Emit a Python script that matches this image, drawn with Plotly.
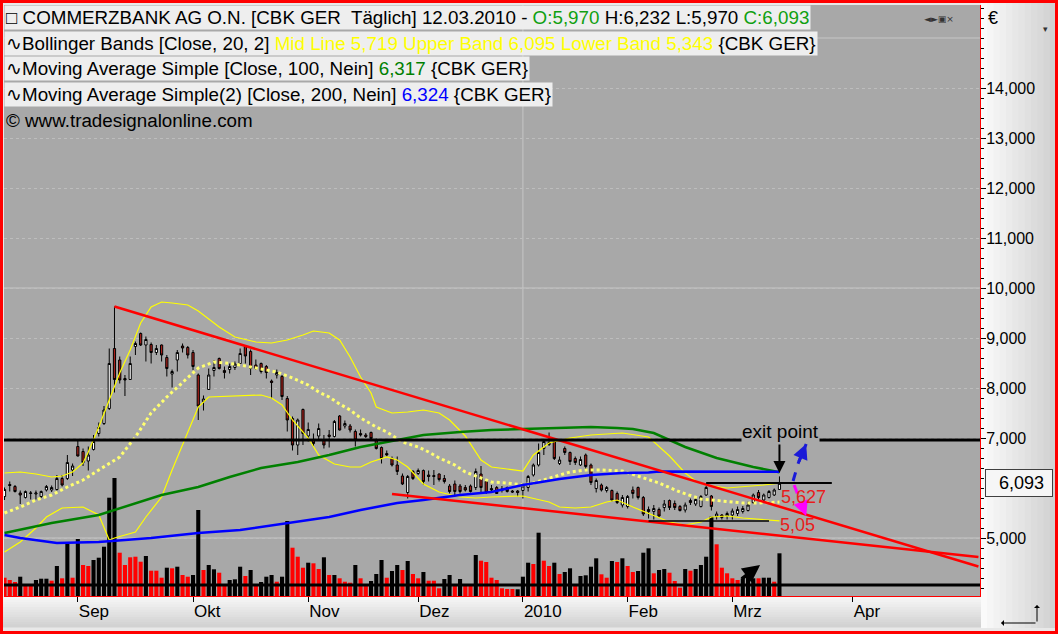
"""Commerzbank daily chart (Tradesignal look) rebuilt with Plotly."""

import pandas as pd
import plotly.graph_objects as go

# ---------------------------------------------------------------- data
FIRST_DAY, LAST_DAY = "2009-08-12", "2010-05-10"
HOLIDAYS = ["2009-12-24", "2009-12-25", "2009-12-31", "2010-01-01", "2010-04-02", "2010-04-05"]
MONTH_LABELS = ["Sep", "Okt", "Nov", "Dez", "2010", "Feb", "Mrz", "Apr"]
PRICE_TICKS = [5, 7, 8, 9, 10, 11, 12, 13, 14]  # 6,000 sits under the last-price box

# daily candles 12.08.2009 - 12.03.2010 (EUR)
open_ = [
    5.83, 6.07, 6.03, 5.90, 5.81, 5.89, 5.88, 5.83, 5.96, 5.96,
    5.97, 6.19, 6.19, 6.36,
    6.83, 6.73, 6.54, 6.77, 7.09, 7.29, 7.59, 8.79, 8.56, 8.19,
    8.17, 8.83, 9.09, 8.86, 8.87, 8.71, 8.86, 8.61, 8.28, 8.56,
    8.84, 8.81, 8.71, 8.26, 7.73, 7.97, 8.35, 8.59, 8.35, 8.37,
    8.41, 8.49, 8.83, 8.73, 8.46, 8.49, 8.43, 8.14, 8.26, 8.23,
    7.79, 7.39, 6.86, 7.57, 7.04, 6.96, 7.04, 6.96, 7.06, 7.03,
    7.44, 7.24, 7.24, 7.13, 7.09, 7.06, 7.11, 6.96, 6.81, 6.69,
    6.59, 6.46, 6.24, 5.91, 6.33, 6.29, 6.35, 6.26, 6.25, 6.28,
    6.19, 6.04, 6.08, 6.04, 6.01, 6.04, 6.01, 6.28, 6.13, 5.99,
    6.01, 5.98, 6.01, 5.94, 5.94, 5.95, 6.01, 6.26, 6.46, 6.79,
    6.91, 6.93, 6.49, 6.79, 6.71, 6.59, 6.46, 6.66, 6.46, 5.99,
    6.06, 5.95, 5.95, 5.89, 5.66, 5.63, 5.96, 6.01, 5.81, 5.57,
    5.53, 5.57, 5.61, 5.75, 5.69, 5.63, 5.56, 5.75, 5.68, 5.63,
    5.86, 5.84, 5.43, 5.46, 5.44, 5.46, 5.49, 5.53, 5.55, 5.71,
    5.91, 5.76, 5.81, 5.86, 5.97,
]
high = [
    6.01, 6.13, 6.06, 5.95, 5.95, 5.94, 5.95, 5.95, 6.06, 6.05,
    6.26, 6.26, 6.66, 6.49,
    6.96, 6.79, 6.83, 7.06, 7.31, 7.64, 8.79, 9.63, 8.63, 8.26,
    8.63, 8.93, 9.11, 9.03, 8.91, 8.86, 8.87, 8.66, 8.37, 8.76,
    8.89, 8.84, 8.76, 8.29, 7.85, 8.39, 8.56, 8.61, 8.43, 8.49,
    8.53, 8.79, 8.86, 8.77, 8.57, 8.51, 8.46, 8.17, 8.37, 8.26,
    7.84, 7.43, 7.39, 7.59, 7.31, 7.09, 7.29, 7.06, 7.16, 7.36,
    7.46, 7.35, 7.28, 7.17, 7.17, 7.10, 7.13, 6.99, 6.83, 6.75,
    6.63, 6.63, 6.29, 6.26, 6.36, 6.39, 6.37, 6.35, 6.36, 6.29,
    6.26, 6.08, 6.15, 6.08, 6.06, 6.07, 6.39, 6.44, 6.15, 6.06,
    6.04, 6.04, 6.03, 5.96, 5.96, 6.09, 6.26, 6.49, 6.89, 6.97,
    7.11, 6.97, 6.63, 6.83, 6.73, 6.63, 6.63, 6.69, 6.49, 6.19,
    6.09, 6.04, 5.97, 5.93, 5.86, 5.86, 6.03, 6.03, 5.84, 5.63,
    5.66, 5.61, 5.76, 5.77, 5.75, 5.66, 5.71, 5.79, 5.81, 5.86,
    6.04, 5.86, 5.53, 5.48, 5.53, 5.59, 5.63, 5.64, 5.73, 5.89,
    5.96, 5.89, 5.96, 5.99, 6.232,
]
low = [
    5.76, 5.93, 5.91, 5.68, 5.79, 5.77, 5.77, 5.80, 5.93, 5.92,
    5.95, 6.03, 6.16, 6.24,
    6.63, 6.44, 6.35, 6.75, 7.03, 7.26, 7.56, 7.91, 8.09, 7.84,
    8.16, 8.66, 8.84, 8.53, 8.49, 8.66, 8.53, 8.23, 8.01, 8.33,
    8.71, 8.59, 8.36, 7.36, 7.55, 7.96, 8.23, 8.37, 8.19, 8.29,
    8.36, 8.48, 8.49, 8.26, 8.36, 8.29, 8.19, 7.79, 8.19, 7.76,
    7.13, 6.75, 6.66, 6.86, 6.93, 6.83, 6.96, 6.79, 6.81, 7.01,
    7.15, 7.19, 7.11, 6.83, 7.03, 7.00, 6.97, 6.77, 6.49, 6.63,
    6.43, 6.26, 6.06, 5.79, 6.16, 6.26, 6.06, 6.13, 6.06, 6.13,
    6.09, 5.89, 5.83, 5.89, 5.93, 5.91, 5.96, 5.91, 5.88, 5.91,
    5.88, 5.91, 5.91, 5.90, 5.83, 5.79, 5.93, 6.23, 6.43, 6.66,
    6.84, 6.56, 6.46, 6.66, 6.46, 6.46, 6.44, 6.36, 6.06, 5.91,
    5.93, 5.91, 5.73, 5.68, 5.61, 5.59, 5.79, 5.77, 5.44, 5.39,
    5.37, 5.41, 5.53, 5.56, 5.56, 5.53, 5.51, 5.66, 5.64, 5.61,
    5.84, 5.55, 5.37, 5.37, 5.37, 5.37, 5.44, 5.49, 5.53, 5.68,
    5.77, 5.73, 5.79, 5.84, 5.97,
]
close = [
    5.97, 6.05, 5.93, 5.86, 5.93, 5.90, 5.90, 5.93, 6.03, 6.01,
    6.19, 6.06, 6.51, 6.44,
    6.64, 6.51, 6.66, 6.93, 7.21, 7.56, 8.49, 8.17, 8.16, 8.16,
    8.49, 8.89, 8.86, 8.97, 8.71, 8.79, 8.66, 8.39, 8.33, 8.71,
    8.80, 8.66, 8.43, 7.64, 7.78, 8.26, 8.41, 8.39, 8.31, 8.43,
    8.48, 8.69, 8.64, 8.39, 8.39, 8.33, 8.31, 8.11, 8.31, 7.83,
    7.36, 6.86, 7.36, 7.09, 7.17, 6.89, 7.19, 6.86, 7.03, 7.33,
    7.16, 7.29, 7.16, 6.96, 7.06, 7.03, 6.99, 6.79, 6.59, 6.66,
    6.46, 6.33, 6.08, 6.23, 6.19, 6.35, 6.13, 6.23, 6.23, 6.17,
    6.13, 5.93, 5.93, 5.93, 5.96, 5.93, 6.33, 6.01, 5.91, 5.96,
    5.89, 5.95, 5.93, 5.92, 5.91, 6.04, 6.23, 6.46, 6.71, 6.93,
    6.87, 6.59, 6.56, 6.71, 6.53, 6.51, 6.57, 6.43, 6.11, 6.15,
    5.96, 6.01, 5.76, 5.71, 5.81, 5.83, 5.89, 5.81, 5.48, 5.53,
    5.59, 5.44, 5.68, 5.61, 5.61, 5.55, 5.66, 5.71, 5.77, 5.83,
    6.01, 5.63, 5.48, 5.41, 5.49, 5.54, 5.57, 5.59, 5.66, 5.86,
    5.81, 5.86, 5.93, 5.96, 6.093,
]
# volume (Mio. Stueck, estimated) and bar direction (1 = black, 0 = red)
volume = [
    18.3, 16.0, 14.0, 19.3, 11.0, 11.0, 16.0, 17.3, 17.3, 15.3,
    30.0, 17.7, 52.7, 18.3,
    57.0, 31.0, 30.0, 36.0, 38.3, 49.3, 98.3, 118.0, 43.3, 31.0,
    38.7, 39.3, 34.3, 40.0, 25.3, 25.3, 18.3, 28.3, 27.7, 29.3,
    21.0, 19.3, 21.0, 86.0, 26.0, 31.0, 26.7, 23.3, 11.0, 16.0,
    16.7, 29.3, 20.0, 26.0, 11.0, 14.0, 19.3, 21.0, 14.3, 19.3,
    75.0, 48.3, 39.3, 28.3, 33.3, 32.7, 27.0, 38.7, 21.0, 21.0,
    17.7, 14.3, 13.3, 31.0, 17.7, 11.0, 15.0, 22.0, 36.0, 18.3,
    25.0, 31.0, 26.0, 35.0, 22.0, 17.7, 24.0, 15.3, 15.3, 7.7,
    17.0, 21.0, 11.0, 17.0, 11.0, 11.0, 41.0, 35.3, 34.0, 18.3,
    16.0, 7.7, 7.0, 7.0, 6.7, 19.3, 33.3, 32.0, 63.3, 35.3,
    30.0, 33.3, 22.0, 24.0, 27.7, 10.7, 20.0, 20.7, 29.3, 37.7,
    21.7, 18.3, 35.0, 34.0, 37.7, 30.0, 24.0, 25.0, 43.3, 47.7,
    22.7, 26.0, 27.0, 23.3, 15.0, 8.3, 27.0, 25.3, 27.0, 31.0,
    39.3, 79.3, 51.7, 28.3, 22.7, 17.7, 16.0, 17.7, 19.3, 17.7,
    17.7, 18.3, 18.3, 14.3, 42.7,
]
volume_up = [
    0, 0, 0, 1, 0, 0, 1, 1, 1, 0,
    1, 0, 1, 0,
    1, 0, 0, 1, 1, 1, 1, 1, 0, 0,
    0, 0, 0, 1, 0, 0, 0, 1, 0, 1,
    0, 0, 1, 1, 0, 1, 1, 0, 0, 1,
    1, 1, 0, 1, 0, 1, 1, 1, 0, 1,
    1, 0, 0, 0, 1, 0, 0, 1, 0, 1,
    0, 0, 0, 1, 0, 0, 1, 1, 1, 0,
    1, 1, 0, 1, 0, 0, 1, 0, 0, 0,
    1, 1, 0, 1, 0, 0, 1, 0, 0, 0,
    0, 0, 0, 0, 1, 1, 1, 0, 1, 0,
    0, 1, 0, 1, 1, 0, 1, 1, 1, 1,
    0, 0, 1, 0, 1, 0, 0, 1, 1, 1,
    0, 1, 1, 0, 0, 0, 1, 0, 1, 1,
    1, 1, 0, 0, 0, 0, 0, 1, 1, 1,
    0, 1, 1, 0, 1,
]

# indicator lines: bar number (0 = 12.08.2009) and value
bb_upper_bar = [0, 3, 6, 9, 11, 13, 15, 16, 18, 20, 22, 24, 26, 28, 30, 32, 35, 37, 41, 44,
                48, 51, 54, 57, 59, 62, 64, 66, 68, 70, 71, 74, 77, 80, 83, 85, 88, 91, 93, 96,
                99, 101, 104, 108, 112, 118, 123, 127, 130, 132, 134, 138, 141, 145, 148]
bb_upper = [6.30, 6.32, 6.28, 6.22, 6.24, 6.32, 6.50, 6.72, 7.22, 7.76, 8.30, 8.76, 9.30, 9.62,
            9.72, 9.70, 9.66, 9.54, 9.22, 9.02, 8.92, 8.90, 8.96, 9.06, 9.14, 9.10, 8.96, 8.62,
            8.22, 7.90, 7.62, 7.50, 7.52, 7.56, 7.50, 7.36, 7.04, 6.56, 6.42, 6.38, 6.34, 6.66,
            6.90, 7.00, 7.06, 7.10, 7.02, 6.64, 6.30, 6.14, 6.06, 6.00, 6.02, 6.06, 6.095]
bb_lower_bar = [0, 3, 6, 8, 11, 15, 18, 19, 20, 21, 25, 27, 30, 32, 35, 37, 39, 44, 49, 51,
                53, 55, 58, 60, 63, 66, 68, 70, 73, 75, 77, 80, 83, 87, 90, 93, 99, 104, 106, 109,
                112, 115, 117, 120, 124, 127, 130, 133, 135, 138, 141, 145, 148]
bb_lower = [4.72, 4.92, 5.20, 5.42, 5.60, 5.62, 5.46, 5.22, 4.96, 5.00, 5.12, 5.42, 5.82, 6.36,
            7.10, 7.62, 7.82, 7.84, 7.86, 7.80, 7.66, 7.36, 7.00, 6.66, 6.48, 6.42, 6.42, 6.52,
            6.62, 6.56, 6.42, 6.08, 5.92, 5.82, 5.80, 5.82, 5.84, 5.72, 5.62, 5.60, 5.62, 5.72,
            5.76, 5.62, 5.44, 5.32, 5.26, 5.32, 5.42, 5.44, 5.40, 5.36, 5.343]
bb_mid_bar = [0, 3, 6, 9, 12, 15, 18, 22, 25, 28, 31, 34, 37, 40, 44, 48, 52, 55, 58, 60,
              62, 64, 66, 68, 71, 73, 76, 79, 81, 83, 86, 88, 91, 93, 96, 99, 101, 104, 106, 108,
              111, 114, 118, 121, 125, 129, 133, 137, 141, 144, 148]
bb_mid = [5.50, 5.62, 5.76, 5.86, 6.02, 6.16, 6.36, 6.62, 7.02, 7.50, 7.82, 8.12, 8.40, 8.52,
          8.48, 8.40, 8.32, 8.20, 8.06, 7.92, 7.82, 7.68, 7.56, 7.40, 7.22, 7.12, 6.92, 6.82,
          6.72, 6.60, 6.46, 6.32, 6.20, 6.12, 6.10, 6.06, 6.10, 6.20, 6.26, 6.32, 6.36, 6.36,
          6.34, 6.24, 6.10, 5.92, 5.78, 5.74, 5.70, 5.70, 5.719]
ma100_bar = [0, 9, 18, 30, 37, 43, 49, 56, 62, 68, 75, 80, 87, 93, 99, 106, 112, 117, 120, 124,
             130, 136, 143, 148]
ma100 = [5.10, 5.30, 5.46, 5.86, 6.02, 6.22, 6.40, 6.52, 6.66, 6.82, 6.96, 7.06, 7.12, 7.16,
         7.18, 7.20, 7.22, 7.20, 7.18, 7.10, 6.82, 6.60, 6.42, 6.317]
ma200_bar = [0, 3, 10, 18, 28, 37, 45, 49, 56, 62, 68, 75, 80, 87, 93, 99, 106, 112, 118, 123,
             125, 148]
ma200 = [5.06, 5.00, 4.90, 4.92, 5.00, 5.10, 5.16, 5.22, 5.32, 5.42, 5.56, 5.70, 5.76, 5.86,
         5.92, 6.06, 6.18, 6.26, 6.30, 6.31, 6.33, 6.324]

# hand drawn analysis objects (bar number / price)
trend_down_bar, trend_down = [21, 186], [9.63, 4.43]
trend_low_bar, trend_low = [74, 186], [5.88, 4.62]
resistance = 6.96
short_top_bar, short_top = [134, 158], 6.10
short_bot_bar, short_bot = [123, 146], 5.34
volume_level = 11.0
up_case_bar, up_case = [150.6, 151.6, 153.1], [6.14, 6.50, 6.88]
down_case_bar, down_case = [150.8, 152.0, 153.1], [6.06, 5.74, 5.44]

# ---------------------------------------------------------------- geometry helpers
W, H = 1058, 634
ML, MR, MT, MB = 4, 78, 5, 38
PW, PH = W - ML - MR, H - MT - MB
FONT = "Liberation Sans, Arial, sans-serif"


def px(xp):
    return (xp - ML) / PW


def py(yp):
    return (MT + PH - yp) / PH


days = [d for d in pd.bdate_range(FIRST_DAY, LAST_DAY) if d.strftime("%Y-%m-%d") not in HOLIDAYS]
bars = list(range(len(close)))
tick_pos, prev_month = [], None
for n, d in enumerate(days):
    if d >= pd.Timestamp("2009-09-01") and d.month != prev_month:
        tick_pos.append(n)
    prev_month = d.month
tick_pos = tick_pos[: len(MONTH_LABELS)]

fig = go.Figure()

fig.add_trace(go.Bar(
    x=bars, y=volume, yaxis="y", width=0.78,
    marker=dict(color=["#000000" if u else "#ff0000" for u in volume_up], line_width=0),
    hoverinfo="skip",
))
fig.add_trace(go.Candlestick(
    x=bars, open=open_, high=high, low=low, close=close, yaxis="y2",
    increasing=dict(fillcolor="#ffffff", line=dict(color="#000000", width=1)),
    decreasing=dict(fillcolor="#a8201a", line=dict(color="#000000", width=1)),
    whiskerwidth=0,
))


def line(xs, ys, color, width, dash="solid"):
    fig.add_trace(go.Scatter(x=xs, y=ys, yaxis="y2", mode="lines",
                             line=dict(color=color, width=width, dash=dash), hoverinfo="skip"))


line(bb_upper_bar, bb_upper, "#ffff00", 1.2)
line(bb_lower_bar, bb_lower, "#ffff00", 1.2)
line(bb_mid_bar, bb_mid, "#ffff70", 3, "dot")
line(ma100_bar, ma100, "#008000", 2.5)
line(ma200_bar, ma200, "#0000ff", 2.5)
line(trend_down_bar, trend_down, "#ff0000", 2.5)
line(trend_low_bar, trend_low, "#ff0000", 2.5)
line(up_case_bar, up_case, "#1a1ad8", 3, "dash")
line(down_case_bar, down_case, "#ff00ff", 3, "dash")

shapes = []
for lvl in (5, 10, 15):
    shapes.append(dict(type="line", xref="paper", x0=0, x1=1, yref="y2", y0=lvl, y1=lvl,
                       line=dict(color="#c6c6c6", width=1), layer="below"))
shapes.append(dict(type="line", xref="x", x0=tick_pos[4], x1=tick_pos[4], yref="paper", y0=0, y1=1,
                   line=dict(color="#c6c6c6", width=1), layer="below"))
shapes.append(dict(type="line", xref="paper", x0=0, x1=1, yref="y2", y0=resistance, y1=resistance,
                   line=dict(color="#000000", width=3)))
shapes.append(dict(type="line", xref="x", x0=short_top_bar[0], x1=short_top_bar[1], yref="y2",
                   y0=short_top, y1=short_top, line=dict(color="#000000", width=2)))
shapes.append(dict(type="line", xref="x", x0=short_bot_bar[0], x1=short_bot_bar[1], yref="y2",
                   y0=short_bot, y1=short_bot, line=dict(color="#000000", width=1.5)))
shapes.append(dict(type="line", xref="paper", x0=0, x1=1, yref="y", y0=volume_level, y1=volume_level,
                   line=dict(color="#000000", width=3)))

# light gradient bands behind the axes
N = 12
for k in range(N):
    g = int(250 - 40 * k / (N - 1))
    x0 = 981 + k * (1056 - 981) / N
    shapes.append(dict(type="rect", xref="paper", yref="paper", x0=px(x0), x1=px(x0 + (1056 - 981) / N + 0.5),
                       y0=py(628), y1=py(2), fillcolor=f"rgb({g},{g},{g})", line_width=0, layer="below"))
for k in range(N):
    g = int(246 - 36 * k / (N - 1))
    y0 = 597 + k * 30 / N
    shapes.append(dict(type="rect", xref="paper", yref="paper", x0=px(2), x1=px(981),
                       y0=py(y0 + 30 / N + 0.5), y1=py(y0), fillcolor=f"rgb({g},{g},{g})",
                       line_width=0, layer="below"))
shapes.append(dict(type="rect", xref="paper", yref="paper", x0=px(1.5), x1=px(1056.5), y0=py(632.5), y1=py(1.5),
                   line=dict(color="#ff0000", width=3)))

hdr = dict(xref="paper", yref="paper", x=0, xanchor="left", yanchor="middle", showarrow=False,
           bgcolor="#eeeeee", borderpad=1, font=dict(family=FONT, size=18.8, color="#000000"))
annotations = [
    dict(hdr, y=py(17.5), text="\u25a1 COMMERZBANK AG O.N. [CBK GER\u00a0 T\u00e4glich] 12.03.2010 - "
         "<span style='color:#10a010'>O:5,970</span> H:6,232 L:5,970 "
         "<span style='color:#10a010'>C:6,093</span>"),
    dict(hdr, y=py(43.5), text="\u223fBollinger Bands [Close, 20, 2] "
         "<span style='color:#ffff00'>Mid Line 5,719 Upper Band 6,095 Lower Band 5,343</span> {CBK GER}"),
    dict(hdr, y=py(69), text="\u223fMoving Average Simple [Close, 100, Nein] "
         "<span style='color:#008000'>6,317</span> {CBK GER}"),
    dict(hdr, y=py(94), text="\u223fMoving Average Simple(2) [Close, 200, Nein] "
         "<span style='color:#0000ff'>6,324</span> {CBK GER}"),
    dict(hdr, y=py(120), bgcolor="rgba(0,0,0,0)", text="\u00a9 www.tradesignalonline.com"),
    dict(xref="paper", yref="paper", x=px(986), y=py(18), xanchor="left", yanchor="middle", showarrow=False,
         text="\u20ac", font=dict(family=FONT, size=18, color="#000000")),
    dict(xref="paper", yref="paper", x=px(1050), y=py(22), showarrow=False,
         text="\u25be", font=dict(family=FONT, size=9, color="#333333")),
    dict(xref="paper", yref="paper", x=px(956), y=py(12), showarrow=False,
         text="\u25c4\u25ba\u25a3\u00d7", font=dict(family="DejaVu Sans", size=9, color="#333333")),
    dict(xref="paper", yref="y2", x=px(985), y=close[-1], xanchor="left", yanchor="middle", showarrow=False,
         text="\u00a0\u00a06,093\u00a0", bgcolor="#f6f6f6", bordercolor="#404040", borderwidth=1, borderpad=3,
         font=dict(family=FONT, size=18, color="#000000")),
    dict(xref="x", yref="y2", x=148.2, y=7.14, showarrow=False, text="exit point", bgcolor="#a8a8a8",
         borderpad=0, font=dict(family=FONT, size=19, color="#000000")),
    dict(xref="x", yref="y2", x=148, y=6.30, axref="x", ayref="y2", ax=148, ay=6.90, text="",
         showarrow=True, arrowhead=2, arrowsize=1.2, arrowwidth=2, arrowcolor="#000000"),
    dict(xref="x", yref="y2", x=up_case_bar[-1], y=up_case[-1], axref="x", ayref="y2",
         ax=up_case_bar[-2], ay=up_case[-2], text="", showarrow=True, arrowhead=2, arrowsize=1,
         arrowwidth=3, arrowcolor="#1a1ad8"),
    dict(xref="x", yref="y2", x=down_case_bar[-1], y=down_case[-1], axref="x", ayref="y2",
         ax=down_case_bar[-2], ay=down_case[-2], text="", showarrow=True, arrowhead=2, arrowsize=1,
         arrowwidth=3, arrowcolor="#ff00ff"),
    dict(xref="x", yref="y2", x=152.5, y=5.82, showarrow=False, text="5,627",
         font=dict(family=FONT, size=18, color="#e81c1c")),
    dict(xref="x", yref="y2", x=151.5, y=5.26, showarrow=False, text="5,05",
         font=dict(family=FONT, size=18, color="#e81c1c")),
    dict(xref="x", yref="y", x=144.3, y=31, axref="x", ayref="y", ax=140.5, ay=16, text="",
         showarrow=True, arrowhead=2, arrowsize=1, arrowwidth=3.5, arrowcolor="#000000"),
    dict(xref="paper", yref="paper", x=px(1037), y=py(605), ax=0, ay=18, text="", showarrow=True,
         arrowhead=1, arrowsize=1, arrowwidth=1, arrowcolor="#000000"),
    dict(xref="paper", yref="paper", x=px(1001), y=py(623), ax=36, ay=0, text="", showarrow=True,
         arrowhead=1, arrowsize=1, arrowwidth=1, arrowcolor="#000000"),
]

fig.update_layout(
    width=W, height=H,
    margin=dict(l=ML, r=MR, t=MT, b=MB, autoexpand=False),
    paper_bgcolor="#e8e8e8", plot_bgcolor="#a8a8a8",
    separators=",.",
    showlegend=False, boxgap=0.4,
    font=dict(family=FONT, size=16, color="#000000"),
    xaxis=dict(
        range=[-0.1, 186.3], tickmode="array", tickvals=tick_pos, ticktext=MONTH_LABELS,
        ticks="outside", ticklen=5, tickcolor="#000000", ticklabelposition="outside right",
        tickfont=dict(size=17), showgrid=False, zeroline=False, showline=True,
        linecolor="#ff0000", linewidth=1, rangeslider=dict(visible=False), fixedrange=True,
        automargin=False,
    ),
    yaxis=dict(range=[0, PH], visible=False, fixedrange=True, automargin=False),
    yaxis2=dict(
        overlaying="y", side="right", range=[3.84, 15.66],
        tickmode="array", tickvals=PRICE_TICKS, tickformat=".3f",
        ticks="outside", ticklen=5, tickcolor="#000000", tickfont=dict(size=16),
        ticklabelstandoff=-3,
        minor=dict(tickmode="linear", tick0=0, dtick=0.2, ticks="outside", ticklen=3,
                   tickcolor="#000000", showgrid=False),
        showgrid=True, gridcolor="#bdbdbd", griddash="dot", gridwidth=1,
        zeroline=False, showline=True, linecolor="#ff0000", linewidth=1, fixedrange=True,
        automargin=False,
    ),
    shapes=shapes,
    annotations=annotations,
)

# the page's default 8px body margin would shift the whole chart
fig.write_html("out.html", config={"displayModeBar": False},
               post_script="document.body.style.margin='0px';")
